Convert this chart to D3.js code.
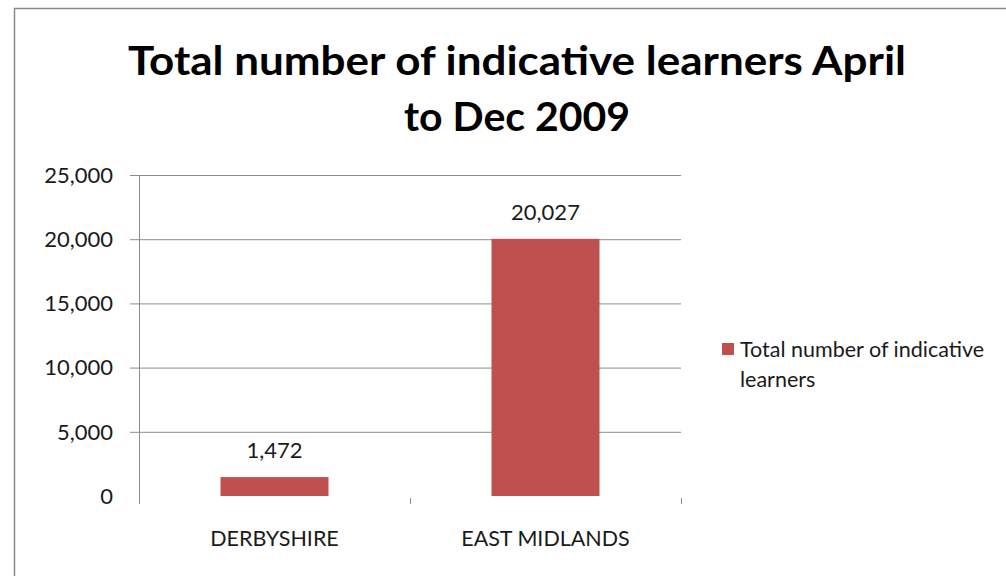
<!DOCTYPE html>
<html>
<head>
<meta charset="utf-8">
<script src="https://cdn.jsdelivr.net/npm/d3@7"></script>
<style>
  body { margin: 0; background: #fff; }
  text { font-family: Lato, "Open Sans", sans-serif; }
</style>
</head>
<body>
<div id="chart"></div>
<script>
// data
const categories = ["DERBYSHIRE", "EAST MIDLANDS"];
const learners = [1472, 20027];
const yTicks = [0, 5000, 10000, 15000, 20000, 25000];
const seriesName = "Total number of indicative learners";
const titleLines = ["Total number of indicative learners April", "to Dec 2009"];

const W = 1006, H = 576;
const plot = { left: 139, right: 681, top: 175, bottom: 496 };

const svg = d3.select("#chart").append("svg")
  .attr("width", W).attr("height", H);

// outer chart border (runs off the right and bottom edges)
svg.append("rect")
  .attr("x", 14.5).attr("y", 8.5)
  .attr("width", 1100).attr("height", 700)
  .attr("fill", "#fff")
  .attr("stroke", "#8a8a8a").attr("stroke-width", 1.5);

// title - stretched a bit to match the wide Calibri look
const titleWidths = [778, 226];
svg.append("g").selectAll("text")
  .data(titleLines)
  .join("text")
  .attr("x", 517)
  .attr("y", (d, i) => 75 + i * 56)
  .attr("text-anchor", "middle")
  .attr("textLength", (d, i) => titleWidths[i])
  .attr("lengthAdjust", "spacingAndGlyphs")
  .style("font-size", "41px")
  .style("font-weight", "bold")
  .text(d => d);

const x = d3.scaleBand()
  .domain(categories)
  .range([plot.left, plot.right])
  .paddingInner(0)
  .paddingOuter(0);

const y = d3.scaleLinear()
  .domain([0, 25000])
  .range([plot.bottom, plot.top]);

// gridlines
svg.append("g").selectAll("line")
  .data(yTicks.filter(d => d > 0))
  .join("line")
  .attr("x1", plot.left - 9).attr("x2", plot.right)
  .attr("y1", d => y(d) + 0.5).attr("y2", d => y(d) + 0.5)
  .attr("stroke", "#8c8c8c");

// y axis line
svg.append("line")
  .attr("x1", plot.left + 0.5).attr("x2", plot.left + 0.5)
  .attr("y1", plot.top).attr("y2", plot.bottom + 8)
  .attr("stroke", "#8c8c8c");

// category tick marks
svg.append("g").selectAll("line")
  .data(categories)
  .join("line")
  .attr("x1", d => x(d) + x.bandwidth() + 0.5)
  .attr("x2", d => x(d) + x.bandwidth() + 0.5)
  .attr("y1", plot.bottom + 2).attr("y2", plot.bottom + 8)
  .attr("stroke", "#8c8c8c");

// y tick labels
const fmt = d3.format(",");
svg.append("g").selectAll("text")
  .data(yTicks)
  .join("text")
  .attr("x", plot.left - 26)
  .attr("y", d => y(d))
  .attr("dy", "0.35em")
  .attr("text-anchor", "end")
  .style("font-size", "22px")
  .style("fill", "#1a1a1a")
  .text(d => fmt(d));

// category labels
svg.append("g").selectAll("text")
  .data(categories)
  .join("text")
  .attr("x", d => x(d) + x.bandwidth() / 2)
  .attr("y", plot.bottom + 50)
  .attr("text-anchor", "middle")
  .style("font-size", "21.5px")
  .style("fill", "#1a1a1a")
  .text(d => d);

// bars
const barW = 108;
svg.append("g").selectAll("rect")
  .data(learners)
  .join("rect")
  .attr("x", (d, i) => x(categories[i]) + (x.bandwidth() - barW) / 2)
  .attr("y", d => y(d))
  .attr("width", barW)
  .attr("height", d => plot.bottom - y(d))
  .attr("fill", "#C0504D");

// value labels
svg.append("g").selectAll("text")
  .data(learners)
  .join("text")
  .attr("x", (d, i) => x(categories[i]) + x.bandwidth() / 2)
  .attr("y", d => y(d) - 19)
  .attr("text-anchor", "middle")
  .style("font-size", "22px")
  .style("fill", "#1a1a1a")
  .text(d => fmt(d));

// legend
const legend = svg.append("g").attr("transform", "translate(722,343)");
legend.append("rect")
  .attr("width", 12).attr("height", 12)
  .attr("fill", "#C0504D");
legend.selectAll("text")
  .data(["Total number of indicative", "learners"])
  .join("text")
  .attr("x", 18)
  .attr("y", (d, i) => 14 + i * 30)
  .style("font-size", "21.5px")
  .style("fill", "#1a1a1a")
  .text(d => d);
</script>
</body>
</html>
